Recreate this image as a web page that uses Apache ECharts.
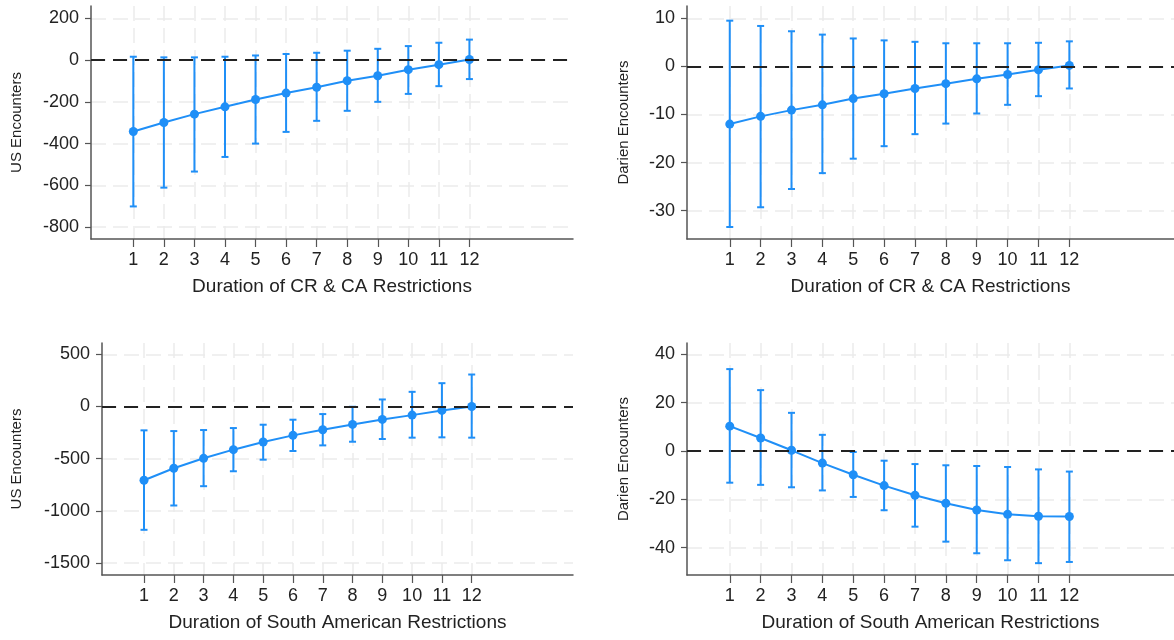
<!DOCTYPE html>
<html>
<head>
<meta charset="utf-8">
<script src="https://cdn.jsdelivr.net/npm/echarts@6/dist/echarts.min.js"></script>
<style>
  html, body { margin: 0; padding: 0; background: #fff; }
  #chart { width: 1174px; height: 640px; }
</style>
</head>
<body>
<div id="chart"></div>
<script>
// months of restriction (x categories)
var durations = [1, 2, 3, 4, 5, 6, 7, 8, 9, 10, 11, 12]

// US encounters, CR & CA restrictions
var usCrEst = [-342, -299, -259, -224, -189, -158, -130, -99, -75, -46, -22, 3]
var usCrLow = [-701, -611, -534, -464, -400, -344, -291, -243, -200, -162, -125, -91]
var usCrHigh = [16, 13, 13, 16, 22, 29, 35, 45, 54, 67, 83, 98]
var usCrTicks = [-800, -600, -400, -200, 0, 200]

// Darien encounters, CR & CA restrictions
var darienCrEst = [-12.0, -10.4, -9.1, -8.0, -6.7, -5.7, -4.6, -3.6, -2.6, -1.7, -0.7, 0.2]
var darienCrLow = [-33.4, -29.3, -25.5, -22.2, -19.2, -16.6, -14.1, -11.9, -9.8, -8.0, -6.2, -4.6]
var darienCrHigh = [9.5, 8.4, 7.3, 6.6, 5.8, 5.4, 5.1, 4.8, 4.8, 4.8, 4.9, 5.2]
var darienCrTicks = [-30, -20, -10, 0, 10]

// US encounters, South American restrictions
var usSaEst = [-707, -592, -497, -414, -341, -277, -223, -172, -124, -83, -38, 0]
var usSaLow = [-1182, -949, -764, -621, -510, -427, -373, -338, -312, -299, -296, -299]
var usSaHigh = [-229, -236, -226, -207, -175, -127, -73, -3, 67, 140, 223, 306]
var usSaTicks = [-1500, -1000, -500, 0, 500]

// Darien encounters, South American restrictions
var darienSaEst = [10.3, 5.4, 0.3, -5.0, -9.8, -14.3, -18.3, -21.6, -24.4, -26.2, -27.0, -27.1]
var darienSaLow = [-13.1, -14.0, -15.0, -16.3, -19.0, -24.5, -31.3, -37.5, -42.3, -45.2, -46.4, -45.9]
var darienSaHigh = [33.9, 25.2, 15.8, 6.7, -0.4, -4.0, -5.4, -5.9, -6.2, -6.6, -7.6, -8.5]
var darienSaTicks = [-40, -20, 0, 20, 40]

var blue = '#1f8ff7'
var font = '"Liberation Sans", Arial, Helvetica, sans-serif'
var gridLine = { show: true, lineStyle: { color: '#ebebeb', width: 1.5, type: [15, 7] } }

var panels = [
  { grid: { left: 91, top: 6, width: 482, height: 233 }, xMin: -0.385, xMax: 15.39, yMin: -857, yMax: 259,
    ticks: usCrTicks, yName: 'US Encounters', yGap: 67, xName: 'Duration of CR & CA Restrictions',
    est: usCrEst, low: usCrLow, high: usCrHigh },
  { grid: { left: 687, top: 6, right: -6, height: 233 }, xMin: -0.385, xMax: 15.39, yMin: -35.9, yMax: 12.55,
    ticks: darienCrTicks, yName: 'Darien Encounters', yGap: 56, xName: 'Duration of CR & CA Restrictions',
    est: darienCrEst, low: darienCrLow, high: darienCrHigh },
  { grid: { left: 102, top: 343, width: 471, height: 232 }, xMin: -0.41, xMax: 15.4, yMin: -1615, yMax: 608,
    ticks: usSaTicks, yName: 'US Encounters', yGap: 78, xName: 'Duration of South American Restrictions',
    est: usSaEst, low: usSaLow, high: usSaHigh },
  { grid: { left: 687, top: 343, right: -6, height: 232 }, xMin: -0.385, xMax: 15.39, yMin: -51.3, yMax: 44.7,
    ticks: darienSaTicks, yName: 'Darien Encounters', yGap: 56, xName: 'Duration of South American Restrictions',
    est: darienSaEst, low: darienSaLow, high: darienSaHigh }
]

function renderErrorBar(params, api) {
  var x = api.value(0)
  var lo = api.coord([x, api.value(1)])
  var hi = api.coord([x, api.value(2)])
  var cap = 3.5
  var style = { stroke: blue, lineWidth: 2 }
  return {
    type: 'group',
    children: [
      { type: 'line', shape: { x1: lo[0], y1: lo[1], x2: hi[0], y2: hi[1] }, style: style },
      { type: 'line', shape: { x1: lo[0] - cap, y1: lo[1], x2: lo[0] + cap, y2: lo[1] }, style: style },
      { type: 'line', shape: { x1: hi[0] - cap, y1: hi[1], x2: hi[0] + cap, y2: hi[1] }, style: style }
    ]
  }
}

var grids = []
var xAxes = []
var yAxes = []
var series = []

panels.forEach(function(p, i) {
  grids.push(p.grid)
  xAxes.push({
    type: 'value',
    gridIndex: i,
    min: p.xMin,
    max: p.xMax,
    name: p.xName,
    nameLocation: 'middle',
    nameGap: 38,
    nameTextStyle: { fontFamily: font, fontSize: 19, color: '#222' },
    axisLine: { onZero: false, lineStyle: { color: '#555', width: 1.5 } },
    axisTick: { show: true, length: 8, customValues: durations, lineStyle: { color: '#555', width: 1.2 } },
    axisLabel: { customValues: durations, margin: 12, fontFamily: font, fontSize: 18, color: '#222' },
    splitLine: gridLine
  })
  yAxes.push({
    type: 'value',
    gridIndex: i,
    min: p.yMin,
    max: p.yMax,
    name: p.yName,
    nameLocation: 'middle',
    nameGap: p.yGap,
    nameTextStyle: { fontFamily: font, fontSize: 15, color: '#222' },
    axisLine: { show: true, onZero: false, lineStyle: { color: '#555', width: 1.5 } },
    axisTick: { show: true, length: 6, customValues: p.ticks, lineStyle: { color: '#555', width: 1.2 } },
    axisLabel: {
      customValues: p.ticks, margin: 12, fontFamily: font, fontSize: 18, color: '#222',
      formatter: function(v) { return String(v) }
    },
    splitLine: gridLine
  })
  series.push({
    type: 'line',
    xAxisIndex: i,
    yAxisIndex: i,
    data: [],
    z: 1,
    markLine: {
      silent: true,
      symbol: ['none', 'none'],
      label: { show: false },
      lineStyle: { color: '#222', width: 2, type: [14, 8] },
      data: [{ yAxis: 0 }]
    }
  })
  series.push({
    type: 'custom',
    xAxisIndex: i,
    yAxisIndex: i,
    z: 3,
    renderItem: renderErrorBar,
    encode: { x: 0, y: [1, 2] },
    data: durations.map(function(d, k) { return [d, p.low[k], p.high[k]] })
  })
  series.push({
    type: 'line',
    xAxisIndex: i,
    yAxisIndex: i,
    z: 4,
    symbol: 'circle',
    symbolSize: 9,
    itemStyle: { color: blue },
    lineStyle: { color: blue, width: 2 },
    data: durations.map(function(d, k) { return [d, p.est[k]] })
  })
})

var chart = echarts.init(document.getElementById('chart'))
chart.setOption({
  animation: false,
  grid: grids,
  xAxis: xAxes,
  yAxis: yAxes,
  series: series
})
</script>
</body>
</html>
